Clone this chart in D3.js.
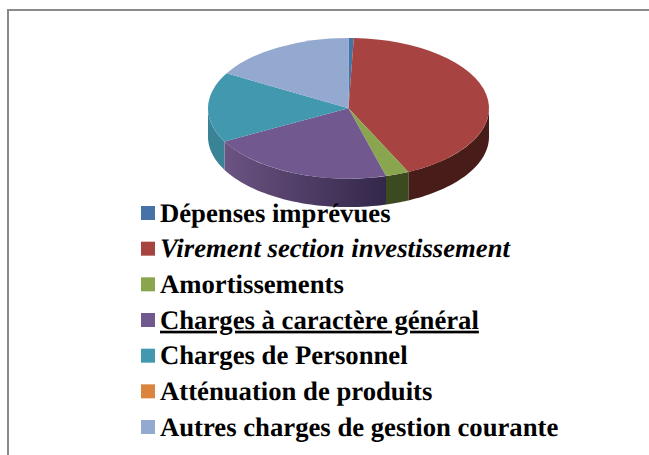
<!DOCTYPE html>
<html>
<head>
<meta charset="utf-8">
<title>Section de fonctionnement</title>
<script src="https://cdn.jsdelivr.net/npm/d3@7"></script>
<style>
	html, body { margin: 0; padding: 0; background: #fff; }
	svg { display: block; }
	.legend text { font-family: "Liberation Serif", serif; font-size: 26.7px; font-weight: bold; fill: #000; text-rendering: geometricPrecision; }
</style>
</head>
<body>
<div id="chart"></div>
<script>
var categories = ["Dépenses imprévues", "Virement section investissement", "Amortissements", "Charges à caractère général", "Charges de Personnel", "Atténuation de produits", "Autres charges de gestion courante"];
var values = [0.6, 42.4, 2.7, 21.5, 16.1, 0, 16.7];
var colors = ["#4572a7", "#a74442", "#89a54e", "#71588f", "#4198af", "#db843d", "#93a9cf"];
var sideColors = [["#2c4a6e", "#2c4a6e"], ["#471c19", "#471c19"], ["#3c4a20", "#3c4a20"], ["#6b5382", "#33274a"], ["#3a8296", "#3a8296"], ["#8a5020", "#8a5020"], ["#5f6f8c", "#5f6f8c"]];
var fontStyles = ["normal", "italic", "normal", "normal", "normal", "normal", "normal"];
var underlined = [false, false, false, true, false, false, false];

var width = 649, height = 455;
var cx = 348.5, cy = 108.3;
var rx = 140.5, ry = 70.3, depth = 28.5;

var svg = d3.select("#chart").append("svg")
	.attr("width", width)
	.attr("height", height);

// frame of the pasted picture, only top and left show
svg.append("path")
	.attr("d", "M8,455V10H649")
	.attr("fill", "none")
	.attr("stroke", "#8a8a8a")
	.attr("stroke-width", 2);

var pie = d3.pie().sort(null).value(function(d) { return d; });
var slices = pie(values);

var defs = svg.append("defs");
var g = svg.append("g").attr("transform", "translate(" + cx + "," + cy + ")");

// side wall, only the front half of the ellipse is visible
var wall = d3.area()
	.x(function(a) { return rx * Math.sin(a); })
	.y0(function(a) { return -ry * Math.cos(a); })
	.y1(function(a) { return -ry * Math.cos(a) + depth; });

slices.forEach(function(d, i) {
	var a0 = Math.max(d.startAngle, Math.PI / 2);
	var a1 = Math.min(d.endAngle, Math.PI * 3 / 2);
	if (a1 <= a0) return;

	var xa = rx * Math.sin(a0), xb = rx * Math.sin(a1);
	var grad = defs.append("linearGradient")
		.attr("id", "side" + i)
		.attr("gradientUnits", "userSpaceOnUse")
		.attr("x1", Math.min(xa, xb)).attr("x2", Math.max(xa, xb))
		.attr("y1", 0).attr("y2", 0);
	grad.append("stop").attr("offset", 0).attr("stop-color", sideColors[i][0]);
	grad.append("stop").attr("offset", 1).attr("stop-color", sideColors[i][1]);

	var n = 40;
	var angles = d3.range(n + 1).map(function(k) { return a0 + (a1 - a0) * k / n; });
	g.append("path")
		.attr("d", wall(angles))
		.attr("fill", "url(#side" + i + ")");
});

// top face: a flat pie squashed to an ellipse
var arc = d3.arc().innerRadius(0).outerRadius(rx);
g.append("g")
	.attr("transform", "scale(1," + ry / rx + ")")
	.selectAll("path")
	.data(slices)
	.enter().append("path")
	.attr("d", arc)
	.attr("fill", function(d, i) { return colors[i]; });

// legend
var legendY = d3.scalePoint().domain(categories).range([213, 427]);
var legend = svg.append("g").attr("class", "legend")
	.selectAll("g")
	.data(categories)
	.enter().append("g")
	.attr("transform", function(d) { return "translate(141," + legendY(d) + ")"; });

legend.append("rect")
	.attr("y", -7)
	.attr("width", 14)
	.attr("height", 14)
	.attr("fill", function(d, i) { return colors[i]; });

legend.append("text")
	.attr("x", 19)
	.attr("y", 8.7)
	.attr("font-style", function(d, i) { return fontStyles[i]; })
	.attr("text-decoration", function(d, i) { return underlined[i] ? "underline" : null; })
	.text(function(d) { return d; });
</script>
</body>
</html>
